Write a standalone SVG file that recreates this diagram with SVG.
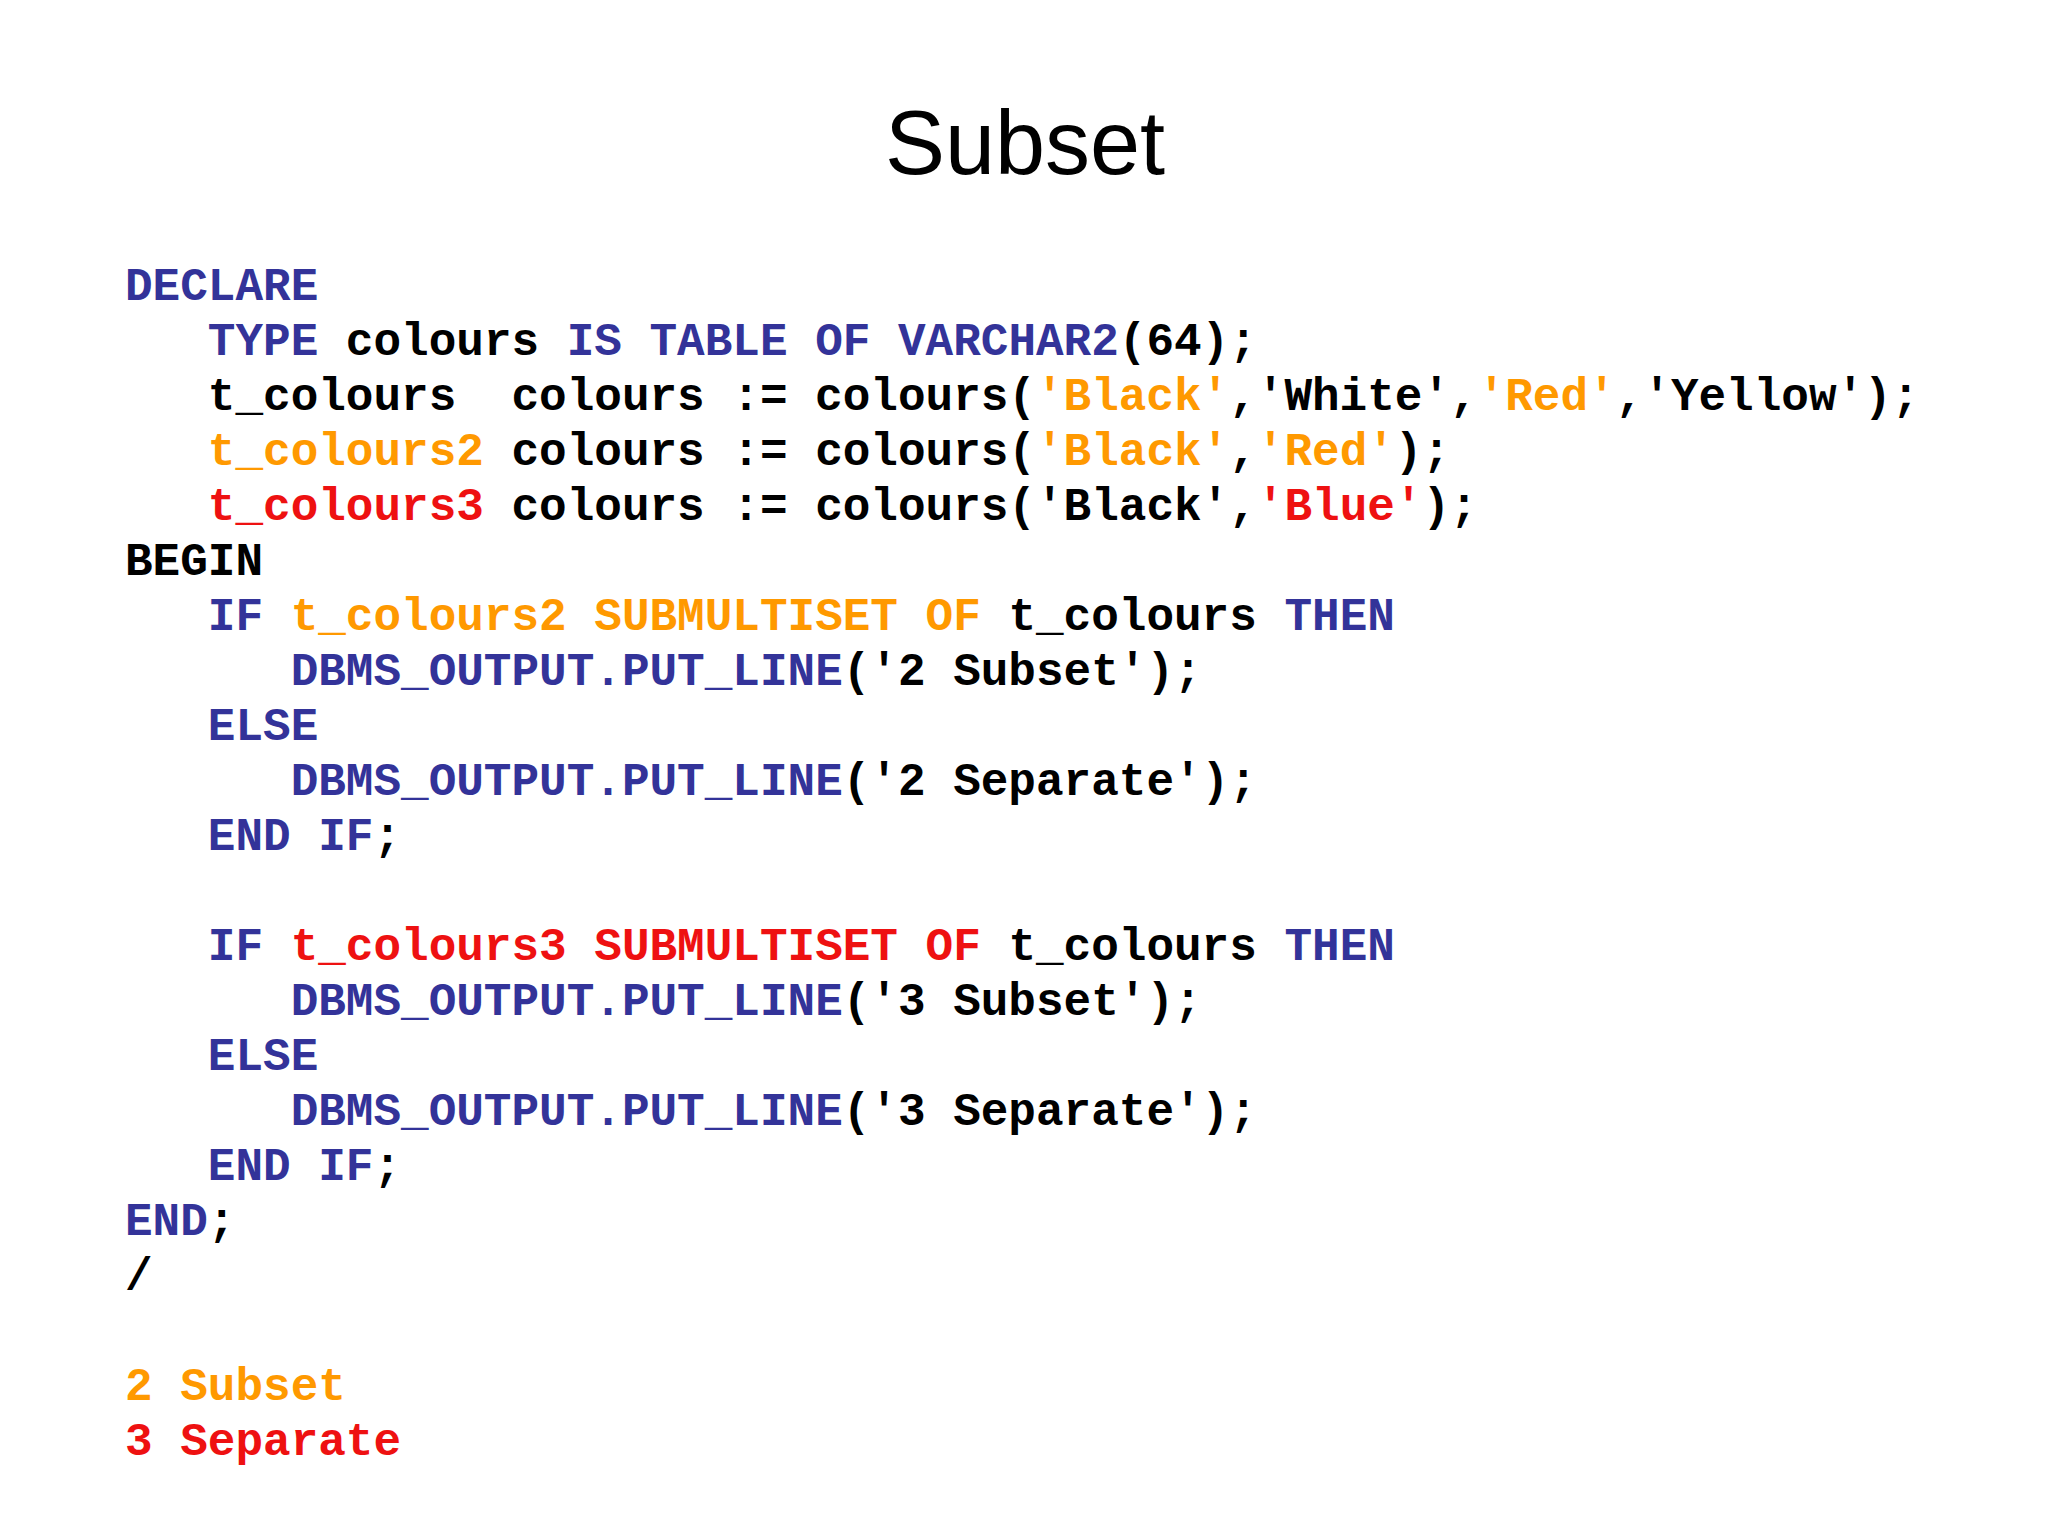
<svg xmlns="http://www.w3.org/2000/svg" width="2048" height="1536" viewBox="0 0 2048 1536">
<style>
.c text{font-family:"Liberation Mono",monospace;font-weight:bold;font-size:46px;fill:#000;white-space:pre}
.c .b{fill:#333399}.c .o{fill:#FF9900}.c .r{fill:#EE1111}
</style>
<rect width="2048" height="1536" fill="#fff"/>
<text x="1025" y="174" text-anchor="middle" font-family="Liberation Sans, sans-serif" font-size="90">Subset</text>
<g id="code" class="c">
<text xml:space="preserve" x="125" y="300"><tspan class="b">DECLARE</tspan></text>
<text xml:space="preserve" x="125" y="355">   <tspan class="b">TYPE</tspan> colours <tspan class="b">IS TABLE OF VARCHAR2</tspan>(64);</text>
<text xml:space="preserve" x="125" y="410">   t_colours  colours := colours(<tspan class="o">'Black'</tspan>,'White',<tspan class="o">'Red'</tspan>,'Yellow');</text>
<text xml:space="preserve" x="125" y="465">   <tspan class="o">t_colours2</tspan> colours := colours(<tspan class="o">'Black'</tspan>,<tspan class="o">'Red'</tspan>);</text>
<text xml:space="preserve" x="125" y="520">   <tspan class="r">t_colours3</tspan> colours := colours('Black',<tspan class="r">'Blue'</tspan>);</text>
<text xml:space="preserve" x="125" y="575">BEGIN</text>
<text xml:space="preserve" x="125" y="630">   <tspan class="b">IF</tspan> <tspan class="o">t_colours2 SUBMULTISET OF</tspan> t_colours <tspan class="b">THEN</tspan></text>
<text xml:space="preserve" x="125" y="685">      <tspan class="b">DBMS_OUTPUT.PUT_LINE</tspan>('2 Subset');</text>
<text xml:space="preserve" x="125" y="740">   <tspan class="b">ELSE</tspan></text>
<text xml:space="preserve" x="125" y="795">      <tspan class="b">DBMS_OUTPUT.PUT_LINE</tspan>('2 Separate');</text>
<text xml:space="preserve" x="125" y="850">   <tspan class="b">END IF</tspan>;</text>
<text xml:space="preserve" x="125" y="960">   <tspan class="b">IF</tspan> <tspan class="r">t_colours3 SUBMULTISET OF</tspan> t_colours <tspan class="b">THEN</tspan></text>
<text xml:space="preserve" x="125" y="1015">      <tspan class="b">DBMS_OUTPUT.PUT_LINE</tspan>('3 Subset');</text>
<text xml:space="preserve" x="125" y="1070">   <tspan class="b">ELSE</tspan></text>
<text xml:space="preserve" x="125" y="1125">      <tspan class="b">DBMS_OUTPUT.PUT_LINE</tspan>('3 Separate');</text>
<text xml:space="preserve" x="125" y="1180">   <tspan class="b">END IF</tspan>;</text>
<text xml:space="preserve" x="125" y="1235"><tspan class="b">END</tspan>;</text>
<text xml:space="preserve" x="125" y="1290">/</text>
<text xml:space="preserve" x="125" y="1400" class="o">2 Subset</text>
<text xml:space="preserve" x="125" y="1455" class="r">3 Separate</text>
</g>
</svg>
